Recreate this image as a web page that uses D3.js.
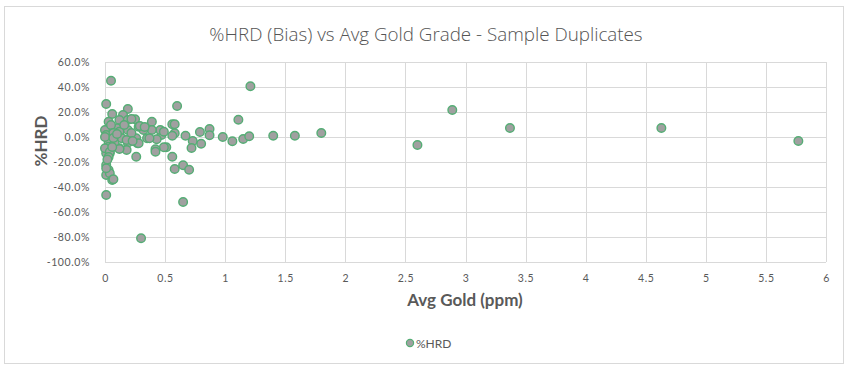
<!DOCTYPE html>
<html>
<head>
<meta charset="utf-8">
<script src="https://cdn.jsdelivr.net/npm/d3@7"></script>
<style>
  body { margin: 0; background: #fff; }
  text { font-family: Lato, "Open Sans", sans-serif; }
</style>
</head>
<body>
<script>
// Avg gold grade (ppm) for each duplicate pair
const avgGold = [
  2.60, 2.89, 3.37, 4.63, 5.77, 1.21, 1.11, 1.15, 1.20, 1.40,
  1.58, 1.80, 1.06, 0.98, 0.87, 0.87, 0.79, 0.80, 0.73, 0.72,
  0.67, 0.65, 0.70, 0.65, 0.60, 0.58, 0.56, 0.56, 0.58, 0.58,
  0.56, 0.51, 0.49, 0.47, 0.46, 0.49, 0.43, 0.42, 0.42, 0.39,
  0.39, 0.30, 0.26, 0.27, 0.19, 0.18, 0.12, 0.03, 0.03, 0.04,
  0.01, 0.01, 0.03, 0.01, 0.04, 0.06, 0.01, 0.05, 0.01, 0.19,
  0.15, 0.06, 0.03, 0.12, 0.25, 0.19, 0.03, 0.00, 0.01, 0.10,
  0.19, 0.28, 0.32, 0.12, 0.14, 0.18, 0.26, 0.35, 0.37, 0.28,
  0.08, 0.22, 0.00, 0.04, 0.12, 0.07, 0.01, 0.05, 0.07, 0.00,
  0.29, 0.33, 0.16, 0.22, 0.07, 0.10, 0.23, 0.03, 0.06, 0.02
];
// %HRD (bias), in percent
const hrd = [
  -6.4, 21.6, 7.2, 7.2, -3.2, 40.6, 13.8, -1.6, 0.6, 1.0,
  1.0, 3.2, -3.4, 0.0, 6.4, 1.4, 4.0, -5.4, -3.2, -8.8,
  1.0, -22.6, -26.2, -52.0, 24.8, -25.6, -15.8, 10.2, 10.2, 3.0,
  1.0, -8.2, -8.2, 1.6, 5.6, 4.2, -1.8, -9.8, -11.8, 12.2,
  5.6, -81.0, -15.8, -5.0, -4.6, -10.4, -9.0, -3.8, -7.8, -13.0,
  -13.0, -22.4, -26.4, -30.4, -29.0, -34.4, -46.4, 45.0, 26.4, 22.4,
  17.6, 18.4, 12.2, 13.6, 14.2, 13.6, 7.0, 5.6, 1.6, 7.0,
  5.6, 8.2, 5.6, 4.2, -1.0, -2.4, -1.0, -1.0, -1.0, -5.0,
  -5.0, 14.4, -9.0, -11.8, -9.6, -33.8, -25.0, 9.6, 3.2, 0.0,
  8.8, 8.0, 9.6, 3.2, -0.8, 2.4, -3.2, -16.0, -8.0, -18.0
];
const xTicks = [0, 0.5, 1, 1.5, 2, 2.5, 3, 3.5, 4, 4.5, 5, 5.5, 6];
const yTicks = [60, 40, 20, 0, -20, -40, -60, -80, -100];

const W = 850, H = 370;
const plot = { left: 105, right: 826, top: 62, bottom: 262 };
const textColor = "#595959";
const gridColor = "#d9d9d9";

const svg = d3.select("body").append("svg")
  .attr("width", W)
  .attr("height", H);

// chart border
svg.append("rect")
  .attr("x", 4.5).attr("y", 6.5)
  .attr("width", 839).attr("height", 357)
  .attr("fill", "#fff")
  .attr("stroke", gridColor);

const x = d3.scaleLinear().domain([0, 6]).range([plot.left, plot.right]);
const y = d3.scaleLinear().domain([-100, 60]).range([plot.bottom, plot.top]);

// gridlines
svg.append("g")
  .selectAll("line")
  .data(xTicks)
  .join("line")
  .attr("x1", d => Math.round(x(d)) + 0.5).attr("x2", d => Math.round(x(d)) + 0.5)
  .attr("y1", plot.top).attr("y2", plot.bottom)
  .attr("stroke", gridColor);

svg.append("g")
  .selectAll("line")
  .data(yTicks)
  .join("line")
  .attr("y1", d => Math.round(y(d)) + 0.5).attr("y2", d => Math.round(y(d)) + 0.5)
  .attr("x1", plot.left).attr("x2", plot.right)
  .attr("stroke", gridColor);

// axes (labels only)
const xAxis = svg.append("g")
  .attr("transform", `translate(0,${plot.bottom + 10})`)
  .call(d3.axisBottom(x).tickValues(xTicks).tickSize(0).tickFormat(d3.format("")));
const yAxis = svg.append("g")
  .attr("transform", `translate(${plot.left - 12},0)`)
  .call(d3.axisLeft(y).tickValues(yTicks).tickSize(0).tickFormat(d => d.toFixed(1) + "%"));

[xAxis, yAxis].forEach(a => {
  a.select(".domain").remove();
  a.selectAll("text")
    .attr("fill", textColor)
    .style("font-size", "10.5px")
    .style("letter-spacing", "0.6px");
});

// title
svg.append("text")
  .attr("x", 426).attr("y", 41)
  .attr("text-anchor", "middle")
  .attr("fill", "#555")
  .style("font-family", "'Open Sans', sans-serif")
  .style("font-size", "18.8px")
  .style("font-weight", 300)
  .text("%HRD (Bias) vs Avg Gold Grade - Sample Duplicates");

// axis titles
svg.append("text")
  .attr("x", 465).attr("y", 306)
  .attr("text-anchor", "middle")
  .attr("fill", textColor)
  .style("font-size", "17px")
  .style("font-weight", "bold")
  .text("Avg Gold (ppm)");

svg.append("text")
  .attr("transform", "translate(47,141) rotate(-90)")
  .attr("text-anchor", "middle")
  .attr("fill", textColor)
  .style("font-size", "17px")
  .style("font-weight", "bold")
  .text("%HRD");

// points
const points = avgGold.map((g, i) => ({ g, v: hrd[i] }));
svg.append("g")
  .selectAll("circle")
  .data(points)
  .join("circle")
  .attr("cx", d => x(d.g))
  .attr("cy", d => y(d.v))
  .attr("r", 4.3)
  .attr("fill", "#a0a0a0")
  .attr("stroke", "#55ad75")
  .attr("stroke-width", 1.4);

// legend
const legend = svg.append("g").attr("transform", "translate(410,343)");
legend.append("circle")
  .attr("r", 3.6)
  .attr("fill", "#a0a0a0")
  .attr("stroke", "#55ad75")
  .attr("stroke-width", 1.2);
legend.append("text")
  .attr("x", 6).attr("y", 4.5)
  .attr("fill", textColor)
  .style("font-size", "12px")
  .text("%HRD");
</script>
</body>
</html>
